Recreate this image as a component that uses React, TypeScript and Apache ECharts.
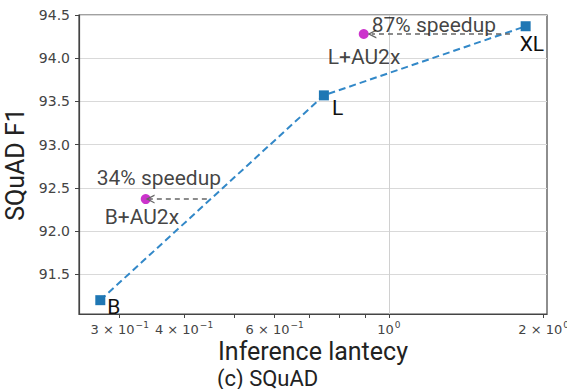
import React, { useEffect, useRef } from "react";
import * as echarts from "echarts";

// ---- data ----
const modelNames = ["B", "L", "XL"];
const modelLatency = [0.275, 0.748, 1.845];
const modelF1 = [91.2, 93.57, 94.37];

const au2xNames = ["B+AU2x", "L+AU2x"];
const au2xLatency = [0.337, 0.894];
const au2xF1 = [92.37, 94.28];
const speedupTexts = ["34% speedup", "87% speedup"];
const arrowFromLatency = [0.443, 1.72];
const arrowToLatency = [0.3436, 0.927];

const xLabelValues = [0.3, 0.4, 0.6, 1, 2];
const xLabelMantissa = ["3 × 10", "4 × 10", "6 × 10", "10", "2 × 10"];
const xLabelExponent = ["−1", "−1", "−1", "0", "0"];
const xTickValues = [0.3, 0.4, 0.5, 0.6, 0.7, 0.8, 0.9, 1, 2];
const xMajorGridValues = [1];
const yTickValues = [91.5, 92.0, 92.5, 93.0, 93.5, 94.0, 94.5];

// ---- styles (label offsets in px) ----
const modelLabelOffsets: [number, number][] = [[7, 7], [8, 13], [-6, 18]];
const au2xLabelOffsets: [number, number][] = [[-41, 18], [-36, 23]];
const speedupOffsets: [number, number][] = [[-49, -21], [8, -9]];

const ANN_FONT = "Roboto, 'Noto Sans', sans-serif";
const TICK_FONT = "'DejaVu Sans', sans-serif";

export default function App() {
  const ref = useRef<HTMLDivElement>(null);
  useEffect(() => {
    if (!ref.current) return;
    const chart = echarts.init(ref.current, undefined, { renderer: "svg" });
    const annLabel = (text: string, off: [number, number]) => ({
      show: true,
      position: "inside",
      align: "left",
      verticalAlign: "middle",
      offset: off,
      formatter: text,
      color: "#111",
      fontSize: 21,
      fontFamily: ANN_FONT,
    });
    chart.setOption({
      animation: false,
      grid: {
        left: 79,
        right: 20,
        top: 15,
        bottom: 75,
        show: true,
        borderColor: "#444",
        borderWidth: 1.2,
        containLabel: false,
        outerBoundsMode: "none",
      },
      xAxis: {
        type: "log",
        min: 0.25,
        max: 2.03,
        name: "Inference lantecy",
        nameLocation: "middle",
        nameGap: 25,
        nameMoveOverlap: false,
        nameTextStyle: {
          fontSize: 25,
          lineHeight: 25,
          fontFamily: ANN_FONT,
          color: "#222",
          verticalAlign: "top",
        },
        axisLine: { show: true, lineStyle: { color: "#444", width: 1.2 } },
        axisTick: {
          show: true,
          length: 4,
          customValues: xTickValues,
          lineStyle: { color: "#444", width: 1 },
        },
        axisLabel: {
          show: true,
          customValues: xLabelValues,
          margin: 6,
          color: "#444",
          fontFamily: TICK_FONT,
          fontSize: 13,
          formatter: (v: number) => {
            const i = xLabelValues.findIndex((t) => Math.abs(t - v) < 1e-6);
            return i >= 0 ? `{b|${xLabelMantissa[i]}}{s|${xLabelExponent[i]}}` : "";
          },
          rich: {
            b: { fontSize: 13, fontFamily: TICK_FONT, color: "#444", lineHeight: 18 },
            s: {
              fontSize: 9,
              fontFamily: TICK_FONT,
              color: "#444",
              lineHeight: 10,
              padding: [0, 0, 8, 1],
            },
          },
        },
        splitLine: { show: false },
        minorTick: { show: false },
      },
      yAxis: {
        type: "value",
        min: 91.04,
        max: 94.5,
        name: "SQuAD F1",
        nameLocation: "middle",
        nameGap: 51,
        nameMoveOverlap: false,
        nameTextStyle: { fontSize: 25, lineHeight: 25, fontFamily: ANN_FONT, color: "#222" },
        axisLine: { show: true, lineStyle: { color: "#444", width: 1.2 } },
        axisTick: {
          show: true,
          length: 4,
          customValues: yTickValues,
          lineStyle: { color: "#444" },
        },
        axisLabel: {
          show: true,
          customValues: yTickValues,
          margin: 9,
          fontSize: 14,
          fontFamily: TICK_FONT,
          color: "#444",
          formatter: (v: number) => v.toFixed(1),
        },
        splitLine: { show: true, lineStyle: { color: "#d9d9d9", width: 1 } },
      },
      title: {
        text: "(c) SQuAD",
        left: 217,
        top: 367,
        padding: 0,
        textStyle: {
          fontSize: 22,
          lineHeight: 22,
          fontWeight: "normal",
          fontFamily: ANN_FONT,
          color: "#222",
        },
      },
      series: [
        {
          type: "line",
          data: [],
          z: 1,
          markLine: {
            silent: true,
            symbol: ["none", "none"],
            label: { show: false },
            lineStyle: { color: "#d0d0d0", width: 1, type: "solid" },
            data: xMajorGridValues.map((v) => ({ xAxis: v })),
          },
        },
        {
          type: "line",
          data: modelLatency.map((x, i) => ({
            value: [x, modelF1[i]],
            label: annLabel(modelNames[i], modelLabelOffsets[i]),
          })),
          symbol: "rect",
          symbolSize: 10,
          showSymbol: true,
          itemStyle: { color: "#1f77b4" },
          lineStyle: { color: "#3288c8", width: 2, type: [7, 4] },
          z: 3,
        },
        {
          type: "scatter",
          data: au2xLatency.map((x, i) => ({
            value: [x, au2xF1[i]],
            label: annLabel(au2xNames[i], au2xLabelOffsets[i]),
          })),
          symbol: "circle",
          symbolSize: 10,
          itemStyle: { color: "#bf00bf" },
          z: 4,
          markLine: {
            silent: true,
            symbol: ["none", "path://M0,10 L5,0 L10,10 L8.4,10 L5,3.2 L1.6,10 Z"],
            symbolSize: [9, 9],
            label: { show: false },
            lineStyle: { color: "#666", width: 1.5, type: [5, 4] },
            data: au2xF1.map((y, i) => [
              { coord: [arrowFromLatency[i], y] },
              { coord: [arrowToLatency[i], y] },
            ]),
          },
        },
        {
          type: "scatter",
          data: au2xLatency.map((x, i) => ({
            value: [x, au2xF1[i]],
            label: annLabel(speedupTexts[i], speedupOffsets[i]),
          })),
          symbolSize: 1,
          itemStyle: { color: "transparent" },
          z: 5,
        },
      ],
    });
    return () => chart.dispose();
  }, []);
  return (
    <div
      ref={ref}
      style={{ position: "fixed", left: 0, top: 0, width: 567, height: 389, background: "#fff" }}
    />
  );
}
